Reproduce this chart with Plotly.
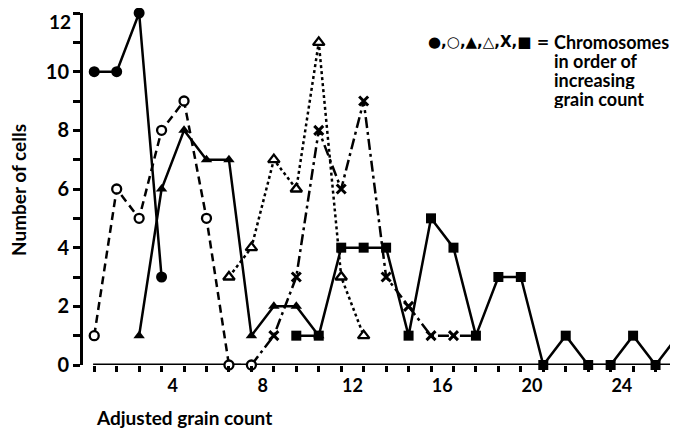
import plotly.graph_objects as go

# ---- data (x = adjusted grain count bin centre, y = number of cells) ----
x_filled_circle = [0.5, 1.5, 2.5, 3.5]
y_filled_circle = [10, 10, 12, 3]

x_open_circle = [0.5, 1.5, 2.5, 3.5, 4.5, 5.5, 6.5, 7.5]
y_open_circle = [1, 6, 5, 8, 9, 5, 0, 0]

x_filled_tri = [2.5, 3.5, 4.5, 5.5, 6.5, 7.5, 8.5, 9.5, 10.5]
y_filled_tri = [1, 6, 8, 7, 7, 1, 2, 2, 1]

x_open_tri = [6.5, 7.5, 8.5, 9.5, 10.5, 11.5, 12.5]
y_open_tri = [3, 4, 7, 6, 11, 3, 1]

x_cross = [7.5, 8.5, 9.5, 10.5, 11.5, 12.5, 13.5, 14.5, 15.5, 16.5, 17.5]
y_cross = [0, 1, 3, 8, 6, 9, 3, 2, 1, 1, 1]

x_square = [9.5, 10.5, 11.5, 12.5, 13.5, 14.5, 15.5, 16.5, 17.5, 18.5,
            19.5, 20.5, 21.5, 22.5, 23.5, 24.5, 25.5, 26.5]
y_square = [1, 1, 4, 4, 4, 1, 5, 4, 1, 3, 3, 0, 1, 0, 0, 1, 0, 1]

x_tick_vals = [4, 8, 12, 16, 20, 24]
x_tick_text = ["4", "8", "12", "16", "20", "24"]
y_tick_vals = list(range(0, 13))
y_tick_text = ["0", "", "2", "", "4", "", "6", "", "8", "", "10", "", ""]
y_top_label = "12"

legend_symbols = "●,○,▲,△,X,■ ="
legend_lines = ["Chromosomes", "in order of", "increasing", "grain count"]

FONT = "Lato"
BLACK = "black"
LW = 2.5

fig = go.Figure()

# dotted open triangles
fig.add_trace(go.Scatter(
    x=x_open_tri, y=y_open_tri, mode="lines+markers",
    line=dict(color=BLACK, width=LW, dash="3px,3px"),
    marker=dict(symbol="triangle-up", size=10, color="white",
                line=dict(color=BLACK, width=2.3)),
    cliponaxis=False, showlegend=False))

# solid filled circles
fig.add_trace(go.Scatter(
    x=x_filled_circle, y=y_filled_circle, mode="lines+markers",
    line=dict(color=BLACK, width=LW),
    marker=dict(symbol="circle", size=11, color=BLACK),
    cliponaxis=False, showlegend=False))

# dash-dot X series line
fig.add_trace(go.Scatter(
    x=x_cross, y=y_cross, mode="lines",
    line=dict(color=BLACK, width=LW, dash="11px,4px,3px,4px"),
    cliponaxis=False, showlegend=False))

# dashed open circles
fig.add_trace(go.Scatter(
    x=x_open_circle, y=y_open_circle, mode="lines+markers",
    line=dict(color=BLACK, width=LW, dash="8px,5px"),
    marker=dict(symbol="circle", size=9, color="white",
                line=dict(color=BLACK, width=2.3)),
    cliponaxis=False, showlegend=False))

# solid filled triangles
fig.add_trace(go.Scatter(
    x=x_filled_tri, y=y_filled_tri, mode="lines+markers",
    line=dict(color=BLACK, width=LW),
    marker=dict(symbol="triangle-up", size=10, color=BLACK),
    cliponaxis=False, showlegend=False))

# X markers (the first/last points sit under other markers)
fig.add_trace(go.Scatter(
    x=x_cross[1:-1], y=y_cross[1:-1], mode="markers",
    marker=dict(symbol="x-thin-open", size=9, color=BLACK, opacity=1,
                line=dict(color=BLACK, width=3)),
    cliponaxis=False, showlegend=False))

# solid squares
fig.add_trace(go.Scatter(
    x=x_square, y=y_square, mode="lines+markers",
    line=dict(color=BLACK, width=LW),
    marker=dict(symbol="square", size=10, color=BLACK),
    cliponaxis=False, showlegend=False))

# x-axis baseline
fig.add_shape(type="line", xref="x", yref="y", x0=0.45, x1=26.5, y0=0, y1=0,
              line=dict(color=BLACK, width=3), layer="below")

fig.update_xaxes(
    range=[0, 26.5], showgrid=False, zeroline=False, showline=False,
    tickmode="array", tickvals=x_tick_vals, ticktext=x_tick_text, ticks="",
    tickfont=dict(family=FONT, size=18, color=BLACK, weight="bold"),
    ticklabelstandoff=8,
    minor=dict(tick0=0.5, dtick=1, ticks="outside", ticklen=6, tickwidth=2.5,
               tickcolor=BLACK, showgrid=False),
)
fig.update_yaxes(
    range=[0, 12], showgrid=False, zeroline=False, showline=True,
    linecolor=BLACK, linewidth=3,
    tickmode="array", tickvals=y_tick_vals, ticktext=y_tick_text,
    ticks="outside", ticklen=7, tickwidth=2.5, tickcolor=BLACK,
    tickfont=dict(family=FONT, size=20, color=BLACK, weight="bold"),
)

# the page body has an 8px margin: size the figure so it fills the window
OFF = 8
W, H = 678 - OFF, 430 - OFF
L, R, T, B = 83 - OFF, 0, 13 - OFF, 65
pw, ph = W - L - R, H - T - B


def px_x(p):
    return (p - OFF - L) / pw


def px_y(p):
    return (H - B - (p - OFF)) / ph


annotations = [
    dict(text=y_top_label, x=px_x(73), y=px_y(OFF), xref="paper", yref="paper",
         showarrow=False, xanchor="right", yanchor="top",
         font=dict(family=FONT, size=19, color=BLACK, weight="bold")),
    dict(text="Number of cells", textangle=-90, x=px_x(18), y=px_y(190),
         xref="paper", yref="paper", showarrow=False,
         xanchor="center", yanchor="middle",
         font=dict(family=FONT, size=19, color=BLACK, weight="bold")),
    dict(text="Adjusted grain count", x=px_x(94), y=px_y(417),
         xref="paper", yref="paper", showarrow=False,
         xanchor="left", yanchor="middle",
         font=dict(family=FONT, size=19, color=BLACK, weight="bold")),
    dict(text=legend_symbols, x=px_x(551), y=px_y(42),
         xref="paper", yref="paper", showarrow=False,
         xanchor="right", yanchor="middle",
         font=dict(family="DejaVu Sans", size=15, color=BLACK, weight="bold")),
]
for i, line in enumerate(legend_lines):
    annotations.append(dict(
        text=line, x=px_x(552), y=px_y(41 + 19 * i), height=19,
        xref="paper", yref="paper", showarrow=False,
        xanchor="left", yanchor="middle",
        font=dict(family=FONT, size=18, color=BLACK, weight="bold")))

fig.update_layout(
    width=W, height=H, margin=dict(l=L, r=R, t=T, b=B, pad=0),
    plot_bgcolor="white", paper_bgcolor="white",
    annotations=annotations, showlegend=False,
)

fig.write_html("out.html")
